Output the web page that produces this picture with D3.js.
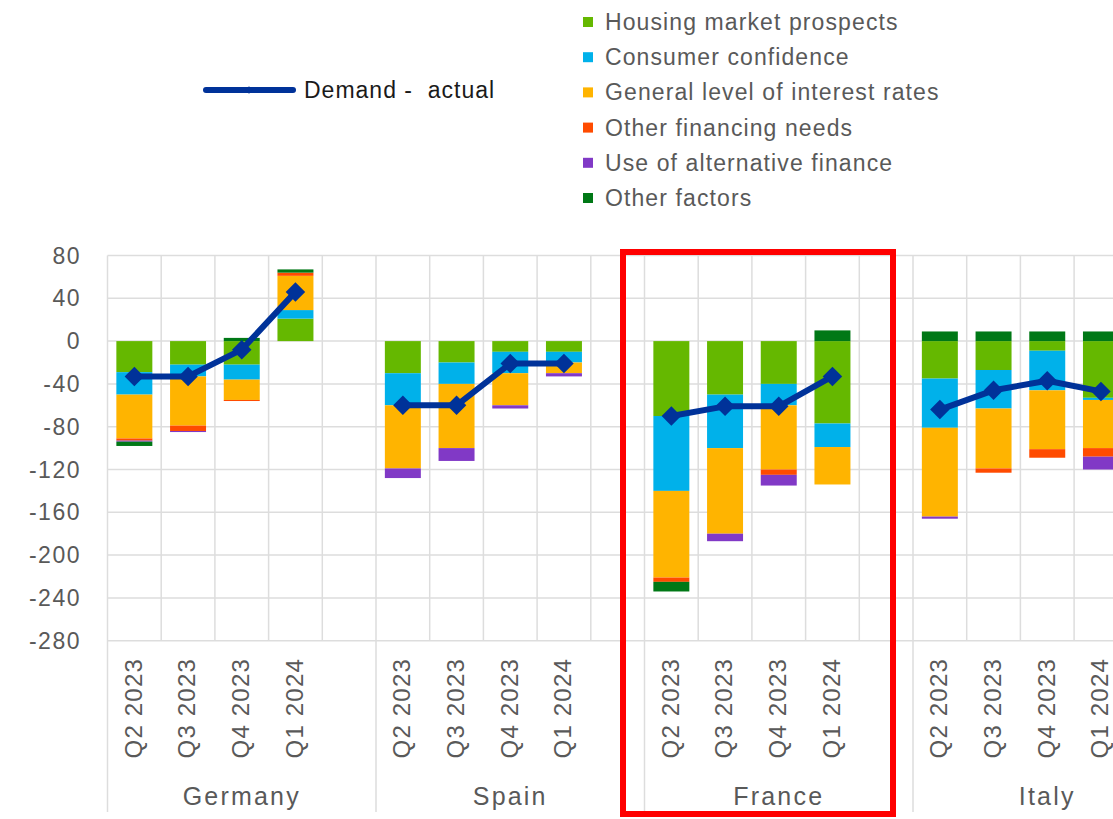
<!DOCTYPE html>
<html>
<head>
<meta charset="utf-8">
<script src="https://cdn.jsdelivr.net/npm/d3@7"></script>
<style>
  body { margin: 0; background: #ffffff; }
  svg { display: block; font-family: "Liberation Sans", Arial, sans-serif; }
</style>
</head>
<body>
<div id="chart"></div>
<script>
/* CONSTANTS AND GLOBALS */
const width = 1113,
  height = 819;

/* DATA */
const countries = ["Germany", "Spain", "France", "Italy"];
const quarters = ["Q2 2023", "Q3 2023", "Q4 2023", "Q1 2024"];
const factorNames = [
  "Housing market prospects",
  "Consumer confidence",
  "General level of interest rates",
  "Other financing needs",
  "Use of alternative finance",
  "Other factors"
];
const factorColors = ["#65B800", "#00B1EA", "#FFB400", "#FF4B00", "#8139C6", "#007816"];

// values per factor, order: Germany Q2..Q1, Spain, France, Italy
const housing      = [-29, -22, -22, 21,  -30, -20, -10, -10,  -70, -50, -40, -77,  -35, -27,  -9, -53];
const consumer     = [-21, -11, -14,  8,  -30, -20, -20, -10,  -70, -50, -20, -22,  -46, -36, -37,  -2];
const interest     = [-41, -46, -19, 32,  -59, -60, -30, -10,  -81, -80, -60, -35,  -83, -56, -55, -45];
const otherFinance = [ -2,  -5,  -1,  3,    0,   0,   0,   0,   -4,   0,  -5,   0,    0,  -4,  -8,  -8];
const altFinance   = [ -1,  -1,   0,  0,   -9, -12,  -3,  -3,    0,  -7, -10,   0,   -2,   0,   0, -12];
const otherFactors = [ -4,   0,   3,  3,    0,   0,   0,   0,   -9,   0,   0,  10,    9,   9,   9,   9];
const demandActual = [-33, -33,  -8, 46,  -60, -60, -21, -21,  -70, -61, -61, -33,  -64, -46, -37, -47];

const yTicks = [80, 40, 0, -40, -80, -120, -160, -200, -240, -280];

const factorSeries = [housing, consumer, interest, otherFinance, altFinance, otherFactors];

// one row per country/quarter
const rows = [];
countries.forEach((c, ci) => {
  quarters.forEach((q, qi) => {
    const i = ci * 4 + qi;
    const row = { slot: c + "|" + q, country: c, quarter: q, demand: demandActual[i] };
    factorNames.forEach((f, fi) => row[f] = factorSeries[fi][i]);
    rows.push(row);
  });
});

// slots: 4 quarters + one empty slot per country
const slots = [];
countries.forEach(c => {
  quarters.forEach(q => slots.push(c + "|" + q));
  slots.push(c + "|blank");
});

/* SCALES */
const plotLeft = 107.5, plotTop = 255.5, plotBottom = 640.7;
const slotW = 53.7;

const xScale = d3.scaleBand()
  .domain(slots)
  .range([plotLeft, plotLeft + slots.length * slotW])
  .paddingInner(0.33)
  .paddingOuter(0.165);

const yScale = d3.scaleLinear()
  .domain([-280, 80])
  .range([plotBottom, plotTop]);

/* SVG */
const svg = d3.select("#chart")
  .append("svg")
  .attr("width", width)
  .attr("height", height);

// gridlines
const grid = svg.append("g").attr("stroke", "#dddddd").attr("stroke-width", 1.5);
grid.selectAll(".hgrid")
  .data(yTicks)
  .join("line")
  .attr("x1", plotLeft)
  .attr("x2", plotLeft + slots.length * slotW)
  .attr("y1", d => yScale(d))
  .attr("y2", d => yScale(d));

grid.selectAll(".vgrid")
  .data(d3.range(slots.length + 1))
  .join("line")
  .attr("x1", i => plotLeft + i * slotW)
  .attr("x2", i => plotLeft + i * slotW)
  .attr("y1", plotTop)
  .attr("y2", i => i % 5 === 0 ? 812 : plotBottom);

// y axis labels
svg.append("g")
  .selectAll("text")
  .data(yTicks)
  .join("text")
  .attr("x", 81)
  .attr("y", d => yScale(d))
  .attr("dy", "0.35em")
  .attr("text-anchor", "end")
  .attr("fill", "#595959")
  .style("font-size", "23px")
  .style("letter-spacing", "1.5px")
  .text(d => String(d));

/* STACKED BARS */
const stack = d3.stack()
  .keys(factorNames)
  .offset(d3.stackOffsetDiverging);

const stacked = stack(rows);

svg.append("g")
  .selectAll("g")
  .data(stacked)
  .join("g")
  .attr("fill", (d, i) => factorColors[i])
  .selectAll("rect")
  .data(d => d)
  .join("rect")
  .attr("x", d => xScale(d.data.slot))
  .attr("width", xScale.bandwidth())
  .attr("y", d => yScale(Math.max(d[0], d[1])))
  .attr("height", d => Math.abs(yScale(d[0]) - yScale(d[1])));

/* DEMAND LINE */
const lineGen = d3.line()
  .x(d => xScale(d.slot) + xScale.bandwidth() / 2)
  .y(d => yScale(d.demand));

const byCountry = Array.from(d3.group(rows, d => d.country).values());

svg.append("g")
  .selectAll("path")
  .data(byCountry)
  .join("path")
  .attr("fill", "none")
  .attr("stroke", "#003299")
  .attr("stroke-width", 6)
  .attr("stroke-linejoin", "round")
  .attr("d", lineGen);

svg.append("g")
  .selectAll("path")
  .data(rows)
  .join("path")
  .attr("fill", "#003299")
  .attr("d", d3.symbol(d3.symbolSquare, 190))
  .attr("transform", d => `translate(${xScale(d.slot) + xScale.bandwidth() / 2},${yScale(d.demand)}) rotate(45)`);

/* X LABELS */
svg.append("g")
  .selectAll("text")
  .data(rows)
  .join("text")
  .attr("transform", d => `translate(${xScale(d.slot) + xScale.bandwidth() / 2 - 1},658) rotate(-90)`)
  .attr("dy", "0.35em")
  .attr("text-anchor", "end")
  .attr("fill", "#595959")
  .style("font-size", "24px")
  .style("letter-spacing", "1.2px")
  .text(d => d.quarter);

svg.append("g")
  .selectAll("text")
  .data(countries)
  .join("text")
  .attr("x", (d, i) => plotLeft + (i * 5 + 2.5) * slotW)
  .attr("y", 805)
  .attr("text-anchor", "middle")
  .attr("fill", "#595959")
  .style("font-size", "25px")
  .style("letter-spacing", "2.2px")
  .text(d => d);

/* HIGHLIGHT BOX */
svg.append("rect")
  .attr("x", plotLeft + 10 * slotW - 21.5)
  .attr("y", 252)
  .attr("width", 270)
  .attr("height", 562)
  .attr("fill", "none")
  .attr("stroke", "#ff0000")
  .attr("stroke-width", 6);

/* LEGEND */
const lineLegend = svg.append("g");
lineLegend.append("line")
  .attr("x1", 206).attr("x2", 293)
  .attr("y1", 90).attr("y2", 90)
  .attr("stroke", "#003299")
  .attr("stroke-width", 6)
  .attr("stroke-linecap", "round");
lineLegend.append("path")
  .attr("fill", "#003299")
  .attr("d", d3.symbol(d3.symbolSquare, 30))
  .attr("transform", "translate(249,90) rotate(45)");
lineLegend.append("text")
  .attr("x", 304)
  .attr("y", 90)
  .attr("dy", "0.35em")
  .attr("fill", "#1a1a1a")
  .style("font-size", "23px")
  .style("letter-spacing", "1px")
  .style("white-space", "pre")
  .text("Demand -  actual");

const legend = svg.append("g")
  .selectAll("g")
  .data(factorNames)
  .join("g")
  .attr("transform", (d, i) => `translate(583,${22 + i * 35.2})`);

legend.append("rect")
  .attr("x", 0)
  .attr("y", -5)
  .attr("width", 10)
  .attr("height", 10)
  .attr("fill", (d, i) => factorColors[i]);

legend.append("text")
  .attr("x", 22)
  .attr("y", 0)
  .attr("dy", "0.35em")
  .attr("fill", "#595959")
  .style("font-size", "23px")
  .style("letter-spacing", "1.1px")
  .text(d => d);
</script>
</body>
</html>
